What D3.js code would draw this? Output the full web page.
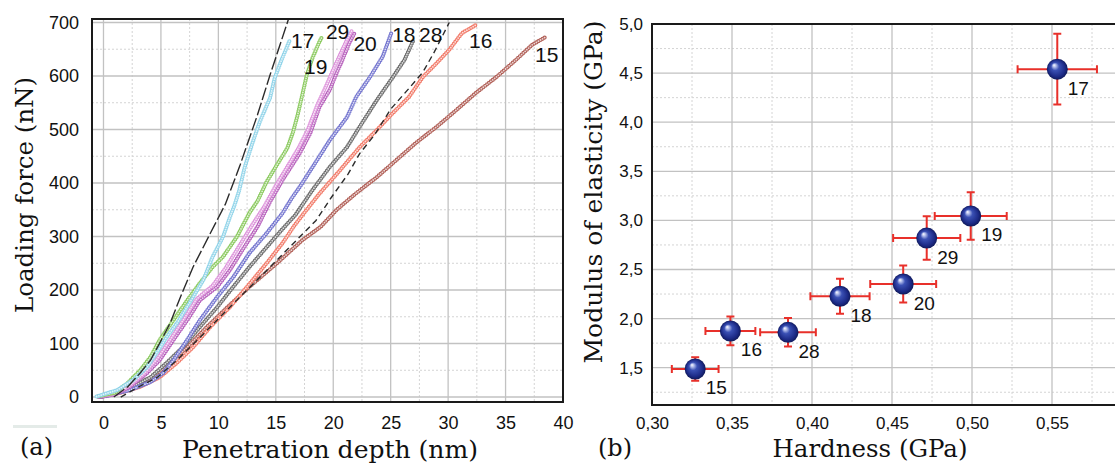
<!DOCTYPE html>
<html>
<head>
<meta charset="utf-8">
<script src="https://cdn.jsdelivr.net/npm/d3@7"></script>
<style>
  html, body { margin: 0; background: #fff; }
  svg { display: block; }
</style>
</head>
<body>
<svg id="fig" width="1115" height="464"></svg>
<script>
// ---------- Panel (a): loading curves, [depth nm, force nN] ----------
const load17 = [[-0.6,1],[1.2,13],[2.6,32],[3.8,56],[4.8,88],[5.5,112],[6.4,138],[7.5,176],[8.7,219],[9.5,262],[10.4,299],[11.0,336],[11.4,358],[11.8,385],[12.3,430],[13.0,477],[13.6,514],[14.5,559],[14.9,596],[15.5,630],[16.2,666]];
const load19 = [[-0.5,1],[1.0,8],[2.1,26],[3.2,50],[4.1,75],[4.9,107],[6.1,144],[7.3,181],[8.4,213],[9.5,243],[10.4,262],[11.6,299],[12.7,344],[13.4,366],[14.2,402],[15.1,434],[16.0,465],[16.5,495],[16.9,527],[17.3,564],[17.7,602],[18.2,634],[18.8,664],[19.0,672]];
const load29 = [[-0.5,1],[1.0,6],[2.2,20],[3.6,45],[4.7,72],[5.9,110],[7.0,146],[8.1,183],[9.5,208],[10.6,240],[11.7,278],[12.9,320],[14.0,356],[15.0,395],[16.0,430],[17.0,466],[17.8,500],[18.6,545],[19.4,582],[20.0,612],[20.6,640],[21.2,668],[21.6,684]];
const load20 = [[-0.4,0],[1.0,5],[2.3,19],[3.8,45],[4.9,69],[6.1,107],[7.3,144],[8.4,181],[9.9,206],[11.0,237],[12.1,275],[13.4,318],[14.5,365],[15.6,406],[17.1,456],[18.0,493],[18.8,542],[19.7,574],[20.3,606],[20.8,630],[21.4,662],[21.9,682]];
const load18 = [[-0.4,0],[0.3,2],[2.3,13],[4.1,28],[5.2,45],[6.1,69],[7.3,107],[8.4,144],[9.9,187],[11.3,224],[12.7,269],[14.2,306],[15.6,344],[16.4,372],[17.1,393],[18.6,443],[19.7,480],[21.2,523],[22.0,561],[23.2,598],[24.3,636],[25.1,683]];
const load28 = [[-0.3,0],[2.3,17],[4.1,37],[5.5,64],[6.9,93],[8.4,131],[9.9,168],[11.3,206],[12.7,243],[14.2,280],[15.5,312],[16.7,340],[18.2,387],[19.7,430],[21.2,467],[22.3,505],[23.8,555],[25.2,598],[26.2,630],[27.0,668]];
const load16 = [[-0.3,0],[1.5,8],[3.2,19],[4.9,37],[6.4,64],[7.8,93],[9.3,131],[11.0,168],[12.5,206],[14.2,250],[15.6,288],[16.6,320],[17.5,345],[18.8,380],[20.6,424],[22.3,467],[23.8,499],[25.2,531],[26.6,561],[27.8,598],[29.0,624],[30.1,649],[31.2,680],[32.4,695]];
const load15 = [[-0.3,0],[1.2,7],[2.6,19],[4.3,37],[5.8,64],[7.3,93],[9.0,131],[10.8,168],[12.7,206],[15.1,250],[17.3,293],[18.9,318],[20.3,350],[22.0,381],[23.8,411],[25.5,443],[27.2,475],[29.0,505],[30.7,536],[32.4,568],[34.2,598],[35.9,630],[37.3,658],[38.5,673]];
// fitted model curves (dashed)
const fitStiff = [[0.9,0],[2.1,19],[3.2,45],[4.1,69],[4.9,101],[5.8,138],[6.7,187],[7.8,243],[9.3,306],[10.6,360],[11.9,434],[13.4,527],[14.5,602],[16.1,706]];
const fitSoft = [[1.5,0],[2.9,17],[4.7,37],[6.4,69],[8.2,107],[9.9,144],[11.6,181],[13.4,219],[15.1,256],[16.8,293],[18.5,330],[19.8,372],[21.3,417],[22.3,455],[23.6,490],[25.0,538],[26.6,577],[27.8,607],[28.8,645],[30.1,700]];
const depthTicks = [0, 5, 10, 15, 20, 25, 30, 35, 40];
const forceTicks = [0, 100, 200, 300, 400, 500, 600, 700];

// ---------- Panel (b): hardness vs modulus ----------
const sampleIds   = ["15", "16", "28", "18", "20", "29", "19", "17"];
const hardness    = [0.327, 0.349, 0.385, 0.4175, 0.457, 0.4717, 0.4992, 0.5533];
const hardnessErr = [0.0146, 0.0156, 0.0174, 0.0185, 0.0206, 0.021, 0.0225, 0.0248];
const modulus     = [1.487, 1.874, 1.860, 2.227, 2.352, 2.82, 3.045, 4.54];
const modulusErr  = [0.119, 0.146, 0.145, 0.178, 0.188, 0.221, 0.241, 0.361];
const hardnessTicks = [0.30, 0.35, 0.40, 0.45, 0.50, 0.55];
const modulusTicks  = [1.5, 2.0, 2.5, 3.0, 3.5, 4.0, 4.5, 5.0];

const svg = d3.select("#fig");
const sans = "'Liberation Sans', Arial, sans-serif";
const serif = "'DejaVu Serif', 'Liberation Serif', serif";
const comma = d3.formatLocale({decimal: ",", thousands: ".", grouping: [3], currency: ["", ""]});
const fmt2 = comma.format(".2f"), fmt1 = comma.format(".1f");

// ===================== Panel (a) =====================
const A = {left: 92, right: 563, top: 19, bottom: 402};
const xA = d3.scaleLinear().domain([-1, 40]).range([A.left, A.right]);
const yA = d3.scaleLinear().domain([-9.3, 706.5]).range([A.bottom, A.top]);
const gA = svg.append("g");

// grid
const minorDepth = d3.range(-0.0, 40, 2.5).filter(v => v % 5 !== 0);
const minorForce = d3.range(50, 700, 100);
gA.selectAll(".mx").data(minorDepth).join("line")
  .attr("x1", d => xA(d)).attr("x2", d => xA(d)).attr("y1", A.top).attr("y2", A.bottom)
  .attr("stroke", "#d4d4d4").attr("stroke-dasharray", "2,2").attr("stroke-width", 1);
gA.selectAll(".my").data(minorForce).join("line")
  .attr("y1", d => yA(d)).attr("y2", d => yA(d)).attr("x1", A.left).attr("x2", A.right)
  .attr("stroke", "#d4d4d4").attr("stroke-dasharray", "2,2").attr("stroke-width", 1);
gA.selectAll(".gx").data(depthTicks.filter(d => d < 40)).join("line")
  .attr("x1", d => xA(d)).attr("x2", d => xA(d)).attr("y1", A.top).attr("y2", A.bottom)
  .attr("stroke", "#c2c2c2").attr("stroke-width", 1.3);
gA.selectAll(".gy").data(forceTicks).join("line")
  .attr("y1", d => yA(d)).attr("y2", d => yA(d)).attr("x1", A.left).attr("x2", A.right)
  .attr("stroke", "#c2c2c2").attr("stroke-width", 1.3);

// loading curves drawn as chains of small open circles
const curves = [
  {id: "15", pts: load15, color: "#b2625a"},
  {id: "16", pts: load16, color: "#f27d6c"},
  {id: "28", pts: load28, color: "#707070"},
  {id: "18", pts: load18, color: "#7677d0"},
  {id: "20", pts: load20, color: "#b862bd"},
  {id: "29", pts: load29, color: "#de96dc"},
  {id: "19", pts: load19, color: "#8dcb62"},
  {id: "17", pts: load17, color: "#93d5ea"}
];
const lineA = d3.line().x(d => xA(d[0])).y(d => yA(d[1]));
const gC = gA.append("g");
curves.forEach(c => {
  gC.append("path").attr("d", lineA(c.pts)).attr("fill", "none")
    .attr("stroke", c.color).attr("stroke-width", 4.2)
    .attr("stroke-linecap", "round").attr("stroke-linejoin", "round")
    .attr("stroke-dasharray", "0 2.4");
  gC.append("path").attr("d", lineA(c.pts)).attr("fill", "none")
    .attr("stroke", "#ffffff").attr("stroke-opacity", 0.75).attr("stroke-width", 1.8)
    .attr("stroke-linecap", "round").attr("stroke-linejoin", "round")
    .attr("stroke-dasharray", "0 2.4");
});

// model fits
gA.append("path").attr("d", lineA(fitStiff)).attr("fill", "none")
  .attr("stroke", "#2b2b2b").attr("stroke-width", 1.4).attr("stroke-dasharray", "13,3");
gA.append("path").attr("d", lineA(fitSoft)).attr("fill", "none")
  .attr("stroke", "#2b2b2b").attr("stroke-width", 1.4).attr("stroke-dasharray", "6,4");

// curve labels, placed next to the last point of each curve
const labelShift = {"17": [13, 0], "19": [-6, 29], "29": [-14, 0], "20": [10, 11],
                    "18": [12, 3], "28": [17, -5], "16": [5, 15], "15": [1, 18]};
curves.forEach(c => {
  const end = c.pts[c.pts.length - 1];
  const s = labelShift[c.id];
  gA.append("text").attr("x", xA(end[0]) + s[0]).attr("y", yA(end[1]) + s[1])
    .attr("text-anchor", "middle").attr("dominant-baseline", "central")
    .attr("font-family", sans).attr("font-size", 21).attr("fill", "#111").text(c.id);
});

// frame
gA.append("rect").attr("x", A.left).attr("y", A.top)
  .attr("width", A.right - A.left).attr("height", A.bottom - A.top)
  .attr("fill", "none").attr("stroke", "#1a1a1a").attr("stroke-width", 2);

// tick labels
gA.append("g").attr("transform", `translate(0,${A.bottom})`)
  .call(d3.axisBottom(xA).tickValues(depthTicks).tickSize(0).tickPadding(14))
  .call(g => g.select(".domain").remove())
  .selectAll("text").attr("font-family", sans).attr("font-size", 18).attr("fill", "#111");
gA.append("g").attr("transform", `translate(${A.left},0)`)
  .call(d3.axisLeft(yA).tickValues(forceTicks).tickSize(0).tickPadding(13))
  .call(g => g.select(".domain").remove())
  .selectAll("text").attr("font-family", sans).attr("font-size", 18).attr("fill", "#111");

// titles
gA.append("text").attr("transform", "translate(33,195) rotate(-90)")
  .attr("text-anchor", "middle").attr("font-family", serif).attr("font-size", 24)
  .attr("textLength", 236).attr("lengthAdjust", "spacingAndGlyphs")
  .attr("fill", "#111").text("Loading force (nN)");
gA.append("text").attr("x", 330).attr("y", 458)
  .attr("text-anchor", "middle").attr("font-family", serif).attr("font-size", 24)
  .attr("textLength", 296).attr("lengthAdjust", "spacingAndGlyphs")
  .attr("fill", "#111").text("Penetration depth (nm)");
gA.append("text").attr("x", 20).attr("y", 455)
  .attr("font-family", serif).attr("font-size", 24).attr("fill", "#111").text("(a)");
gA.append("rect").attr("x", 13).attr("y", 425).attr("width", 44).attr("height", 3)
  .attr("fill", "#e4ebe8");

// ===================== Panel (b) =====================
const B = {left: 652, right: 1132, top: 24, bottom: 405};
const xB = d3.scaleLinear().domain([0.30, 0.60]).range([B.left, B.right]);
const yB = d3.scaleLinear().domain([1.12, 5.0]).range([B.bottom, B.top]);
const gB = svg.append("g");

const minorH = d3.range(0.325, 0.6, 0.05);
const minorM = d3.range(1.25, 5.0, 0.5);
gB.selectAll(".mx").data(minorH).join("line")
  .attr("x1", d => xB(d)).attr("x2", d => xB(d)).attr("y1", B.top).attr("y2", B.bottom)
  .attr("stroke", "#d4d4d4").attr("stroke-dasharray", "2,2");
gB.selectAll(".my").data(minorM).join("line")
  .attr("y1", d => yB(d)).attr("y2", d => yB(d)).attr("x1", B.left).attr("x2", B.right)
  .attr("stroke", "#d4d4d4").attr("stroke-dasharray", "2,2");
gB.selectAll(".gx").data(hardnessTicks.slice(1)).join("line")
  .attr("x1", d => xB(d)).attr("x2", d => xB(d)).attr("y1", B.top).attr("y2", B.bottom)
  .attr("stroke", "#c2c2c2").attr("stroke-width", 1.3);
gB.selectAll(".gy").data(modulusTicks.slice(0, -1)).join("line")
  .attr("y1", d => yB(d)).attr("y2", d => yB(d)).attr("x1", B.left).attr("x2", B.right)
  .attr("stroke", "#c2c2c2").attr("stroke-width", 1.3);

// frame (right edge lies outside the view)
gB.append("path")
  .attr("d", `M${B.right},${B.top}H${B.left}V${B.bottom}H${B.right}`)
  .attr("fill", "none").attr("stroke", "#1a1a1a").attr("stroke-width", 2);

// sphere shading
const defs = svg.append("defs");
const grad = defs.append("radialGradient").attr("id", "ball")
  .attr("cx", "50%").attr("cy", "50%").attr("r", "50%")
  .attr("fx", "34%").attr("fy", "30%");
grad.append("stop").attr("offset", "0%").attr("stop-color", "#ffffff");
grad.append("stop").attr("offset", "14%").attr("stop-color", "#b9c3ee");
grad.append("stop").attr("offset", "38%").attr("stop-color", "#3a50b4");
grad.append("stop").attr("offset", "80%").attr("stop-color", "#1c2a86");
grad.append("stop").attr("offset", "100%").attr("stop-color", "#101a5a");

const pts = sampleIds.map((id, i) => ({id, h: hardness[i], he: hardnessErr[i], m: modulus[i], me: modulusErr[i]}));
const red = "#e8302a", cap = 4;
const eg = gB.append("g").attr("stroke", red).attr("stroke-width", 2).attr("fill", "none");
pts.forEach(p => {
  const cx = xB(p.h), cy = yB(p.m);
  const x0 = xB(p.h - p.he), x1 = xB(p.h + p.he);
  const y0 = yB(p.m - p.me), y1 = yB(p.m + p.me);
  eg.append("path").attr("d",
    `M${x0},${cy}H${x1}M${x0},${cy - cap}V${cy + cap}M${x1},${cy - cap}V${cy + cap}` +
    `M${cx},${y0}V${y1}M${cx - cap},${y0}H${cx + cap}M${cx - cap},${y1}H${cx + cap}`);
});
gB.selectAll(".ball").data(pts).join("circle")
  .attr("cx", d => xB(d.h)).attr("cy", d => yB(d.m)).attr("r", 10.5)
  .attr("fill", "url(#ball)");
gB.selectAll(".lab").data(pts).join("text")
  .attr("x", d => xB(d.h) + 21).attr("y", d => yB(d.m) + 19)
  .attr("text-anchor", "middle").attr("dominant-baseline", "central")
  .attr("font-family", sans).attr("font-size", 19).attr("fill", "#111")
  .text(d => d.id);

// tick labels
gB.append("g").attr("transform", `translate(0,${B.bottom})`)
  .call(d3.axisBottom(xB).tickValues(hardnessTicks).tickFormat(fmt2).tickSize(0).tickPadding(12))
  .call(g => g.select(".domain").remove())
  .selectAll("text").attr("font-family", sans).attr("font-size", 17).attr("fill", "#111");
gB.append("g").attr("transform", `translate(${B.left},0)`)
  .call(d3.axisLeft(yB).tickValues(modulusTicks).tickFormat(fmt1).tickSize(0).tickPadding(9))
  .call(g => g.select(".domain").remove())
  .selectAll("text").attr("font-family", sans).attr("font-size", 17).attr("fill", "#111");

// titles
gB.append("text").attr("transform", "translate(602,192) rotate(-90)")
  .attr("text-anchor", "middle").attr("font-family", serif).attr("font-size", 24)
  .attr("textLength", 343).attr("lengthAdjust", "spacingAndGlyphs")
  .attr("fill", "#111").text("Modulus of elasticity (GPa)");
gB.append("text").attr("x", 870).attr("y", 457)
  .attr("text-anchor", "middle").attr("font-family", serif).attr("font-size", 25)
  .attr("textLength", 195).attr("lengthAdjust", "spacingAndGlyphs")
  .attr("fill", "#111").text("Hardness (GPa)");
gB.append("text").attr("x", 598).attr("y", 456)
  .attr("font-family", serif).attr("font-size", 24).attr("fill", "#111").text("(b)");
</script>
</body>
</html>
